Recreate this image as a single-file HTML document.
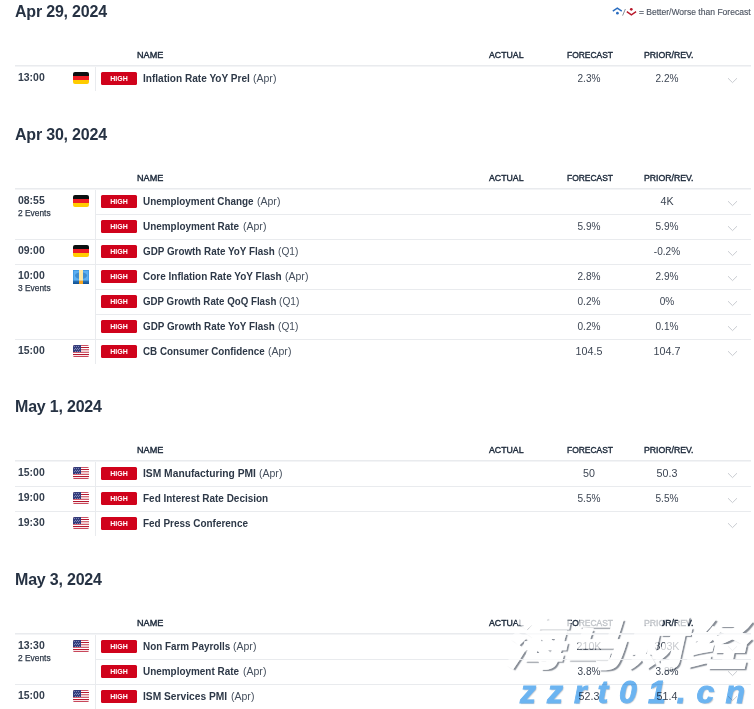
<!DOCTYPE html>
<html lang="en">
<head>
<meta charset="utf-8">
<title>Economic Calendar</title>
<style>
html,body{margin:0;padding:0;background:#fff;}
body{width:754px;height:709px;overflow:hidden;position:relative;font-family:"Liberation Sans","Noto Sans CJK SC",sans-serif;color:#222d3d;}
.sec{position:absolute;left:0;width:754px;z-index:1;}
.sec h2{position:absolute;left:15px;top:0;margin:0;font-size:16px;line-height:23px;font-weight:bold;color:#263243;letter-spacing:-0.2px;white-space:nowrap;}
.hd{position:absolute;top:48.5px;font-size:9.5px;line-height:12px;color:#202d3e;-webkit-text-stroke:0.42px #202d3e;white-space:nowrap;transform-origin:0 50%;}
.hline{position:absolute;left:15px;top:65px;width:736px;height:2px;background:linear-gradient(#e9ebee 0,#e9ebee 50%,#f3f4f6 50%,#f3f4f6 100%);}
.rows{position:absolute;left:15px;top:67px;width:736px;}
.grp{position:relative;border-bottom:1px solid #e9ebee;}
.grp.last{border-bottom:none;}
.left{position:absolute;left:0;top:0;bottom:0;width:80px;border-right:1px solid #e9ebee;}
.time{position:absolute;left:3px;top:3px;font-size:11px;line-height:14px;color:#333e4d;font-weight:bold;transform:scaleX(.95);transform-origin:0 50%;}
.cnt{position:absolute;left:3px;top:17.6px;font-size:9px;line-height:11px;color:#2c3747;-webkit-text-stroke:0.25px #2c3747;transform:scaleX(.93);transform-origin:0 50%;}
.flag{position:absolute;left:58px;top:5px;display:block;}
.flag.eu{top:5px;}
.ev{position:relative;height:24px;margin-left:81px;border-top:1px solid #e9ebee;}
.left + .ev{border-top:none;}
.badge{position:absolute;left:5px;top:5px;width:36px;height:13px;border-radius:1.5px;background:#d0021b;color:#fff;font-size:7px;line-height:13px;font-weight:bold;text-align:center;}
.nm{position:absolute;left:47px;top:5px;font-size:10.5px;line-height:13px;white-space:nowrap;color:#46505e;}
.nm b{display:inline-block;color:#2d3847;font-weight:bold;font-size:10px;transform-origin:0 50%;}
.nm i{position:absolute;top:0;font-style:normal;}
.val{position:absolute;top:5px;width:80px;text-align:center;font-size:10.5px;line-height:13px;color:#3d4654;transform:scaleX(.96);}
.val.n{transform:scaleX(1.02);}
.fc{left:453px;}
.pr{left:531px;}
.chev{position:absolute;left:631px;top:10px;display:block;}
.legend{position:absolute;right:3px;top:7px;font-size:9px;line-height:11px;color:#4d5562;-webkit-text-stroke:0.15px #4d5562;white-space:nowrap;transform:scaleX(.95);transform-origin:100% 50%;}
.lgi{position:absolute;left:611px;top:5px;display:block;}
.wm1,.wm1t{position:absolute;left:518px;top:600px;font-family:"Noto Sans CJK SC",sans-serif;font-weight:900;font-size:56px;line-height:80px;color:#fff;-webkit-text-stroke:1.6px #fff;transform:skewX(-12.5deg) scaleX(1.088);transform-origin:50% 50%;white-space:nowrap;letter-spacing:0;}
.wm1{z-index:0;text-shadow:2.5px 2px 1px rgba(55,65,80,.6);}
.wm1t{z-index:2;opacity:.72;width:224px;height:80px;}
.wm1t::before{content:"海马财经";}
.wm2{z-index:3;position:absolute;left:520px;top:672px;font-weight:bold;font-style:italic;font-size:32px;line-height:40px;color:#6cb4f1;-webkit-text-stroke:0.9px #6cb4f1;mix-blend-mode:multiply;letter-spacing:11px;white-space:nowrap;text-shadow:1px 1px 1px rgba(60,70,85,.3);}
</style>
</head>
<body>
<svg class="lgi" width="27" height="12" viewBox="0 0 27 12"><path d="M1.8 6.2 L6.3 3.1 L10.8 6.2" fill="none" stroke="#2a6dc0" stroke-width="1.4"/><circle cx="6.4" cy="8.2" r="1.35" fill="#2a6dc0"/><path d="M11.6 10.6 L14.4 4.0" stroke="#7d838d" stroke-width="0.9"/><circle cx="20.3" cy="4.3" r="1.35" fill="#b8182a"/><path d="M15.8 6.6 L20.4 9.8 L25.1 6.6" fill="none" stroke="#b8182a" stroke-width="1.4"/></svg>
<div class="legend">= Better/Worse than Forecast</div>
<div class="sec" style="top:0px">
<h2>Apr 29, 2024</h2>
<span class="hd" style="left:136.5px;transform:scaleX(.958)">NAME</span><span class="hd" style="left:488.5px;transform:scaleX(.923)">ACTUAL</span><span class="hd" style="left:566.5px;transform:scaleX(.889)">FORECAST</span><span class="hd" style="left:644px;transform:scaleX(.916)">PRIOR/REV.</span>
<div class="hline"></div>
<div class="rows">
<div class="grp last"><div class="left"><span class="time">13:00</span><svg class="flag" width="16" height="12" viewBox="0 0 16 12"><defs><clipPath id="rc1"><rect width="16" height="12" rx="2" ry="2"/></clipPath></defs><g clip-path="url(#rc1)"><rect width="16" height="4" fill="#0b0f10"/><rect y="4" width="16" height="4" fill="#ed1c24"/><rect y="8" width="16" height="4" fill="#ffcc00"/></g></svg></div>
<div class="ev"><span class="badge">HIGH</span><span class="nm"><b style="transform:scaleX(1.007)">Inflation Rate YoY Prel</b> <i style="left:110.0px;transform:scaleX(1.002);transform-origin:0 50%">(Apr)</i></span><span class="val fc">2.3%</span><span class="val pr">2.2%</span><svg class="chev" width="11" height="7" viewBox="0 0 11 7"><path d="M1 1.2 L5.5 5.6 L10 1.2" fill="none" stroke="#c9ccd1" stroke-width="1"/></svg></div>
</div>
</div>
</div>
<div class="sec" style="top:123px">
<h2>Apr 30, 2024</h2>
<span class="hd" style="left:136.5px;transform:scaleX(.958)">NAME</span><span class="hd" style="left:488.5px;transform:scaleX(.923)">ACTUAL</span><span class="hd" style="left:566.5px;transform:scaleX(.889)">FORECAST</span><span class="hd" style="left:644px;transform:scaleX(.916)">PRIOR/REV.</span>
<div class="hline"></div>
<div class="rows">
<div class="grp"><div class="left"><span class="time">08:55</span><span class="cnt">2 Events</span><svg class="flag" width="16" height="12" viewBox="0 0 16 12"><defs><clipPath id="rc2"><rect width="16" height="12" rx="2" ry="2"/></clipPath></defs><g clip-path="url(#rc2)"><rect width="16" height="4" fill="#0b0f10"/><rect y="4" width="16" height="4" fill="#ed1c24"/><rect y="8" width="16" height="4" fill="#ffcc00"/></g></svg></div>
<div class="ev"><span class="badge">HIGH</span><span class="nm"><b style="transform:scaleX(0.990)">Unemployment Change</b> <i style="left:114.0px;transform:scaleX(1.002);transform-origin:0 50%">(Apr)</i></span><span class="val pr n">4K</span><svg class="chev" width="11" height="7" viewBox="0 0 11 7"><path d="M1 1.2 L5.5 5.6 L10 1.2" fill="none" stroke="#c9ccd1" stroke-width="1"/></svg></div>
<div class="ev"><span class="badge">HIGH</span><span class="nm"><b style="transform:scaleX(0.993)">Unemployment Rate</b> <i style="left:99.6px;transform:scaleX(1.002);transform-origin:0 50%">(Apr)</i></span><span class="val fc">5.9%</span><span class="val pr">5.9%</span><svg class="chev" width="11" height="7" viewBox="0 0 11 7"><path d="M1 1.2 L5.5 5.6 L10 1.2" fill="none" stroke="#c9ccd1" stroke-width="1"/></svg></div>
</div>
<div class="grp"><div class="left"><span class="time">09:00</span><svg class="flag" width="16" height="12" viewBox="0 0 16 12"><defs><clipPath id="rc3"><rect width="16" height="12" rx="2" ry="2"/></clipPath></defs><g clip-path="url(#rc3)"><rect width="16" height="4" fill="#0b0f10"/><rect y="4" width="16" height="4" fill="#ed1c24"/><rect y="8" width="16" height="4" fill="#ffcc00"/></g></svg></div>
<div class="ev"><span class="badge">HIGH</span><span class="nm"><b style="transform:scaleX(0.985)">GDP Growth Rate YoY Flash</b> <i style="left:134.8px;transform:scaleX(0.971);transform-origin:0 50%">(Q1)</i></span><span class="val pr">-0.2%</span><svg class="chev" width="11" height="7" viewBox="0 0 11 7"><path d="M1 1.2 L5.5 5.6 L10 1.2" fill="none" stroke="#c9ccd1" stroke-width="1"/></svg></div>
</div>
<div class="grp"><div class="left"><span class="time">10:00</span><span class="cnt">3 Events</span><svg class="flag eu" width="16" height="14" viewBox="0 0 16 14"><defs><linearGradient id="eg4" x1="0" y1="0" x2="0" y2="1"><stop offset="0" stop-color="#2f76b8"/><stop offset="1" stop-color="#0d4f93"/></linearGradient></defs><rect width="16" height="14" fill="#3d95de"/><rect x="0.7" y="0.8" width="14.6" height="10" fill="#5db0f2"/><ellipse cx="8" cy="5.6" rx="6" ry="3.4" fill="#3f8dd0"/><rect y="10.6" width="16" height="3.4" fill="url(#eg4)"/><rect x="6" y="0" width="4" height="10.8" fill="#ffe9a6"/><rect x="6" y="10.8" width="4" height="3.2" fill="#f9a51f"/></svg></div>
<div class="ev"><span class="badge">HIGH</span><span class="nm"><b style="transform:scaleX(0.998)">Core Inflation Rate YoY Flash</b> <i style="left:141.8px;transform:scaleX(1.002);transform-origin:0 50%">(Apr)</i></span><span class="val fc">2.8%</span><span class="val pr">2.9%</span><svg class="chev" width="11" height="7" viewBox="0 0 11 7"><path d="M1 1.2 L5.5 5.6 L10 1.2" fill="none" stroke="#c9ccd1" stroke-width="1"/></svg></div>
<div class="ev"><span class="badge">HIGH</span><span class="nm"><b style="transform:scaleX(0.973)">GDP Growth Rate QoQ Flash</b> <i style="left:136.4px;transform:scaleX(0.971);transform-origin:0 50%">(Q1)</i></span><span class="val fc">0.2%</span><span class="val pr">0%</span><svg class="chev" width="11" height="7" viewBox="0 0 11 7"><path d="M1 1.2 L5.5 5.6 L10 1.2" fill="none" stroke="#c9ccd1" stroke-width="1"/></svg></div>
<div class="ev"><span class="badge">HIGH</span><span class="nm"><b style="transform:scaleX(0.985)">GDP Growth Rate YoY Flash</b> <i style="left:134.8px;transform:scaleX(0.971);transform-origin:0 50%">(Q1)</i></span><span class="val fc">0.2%</span><span class="val pr">0.1%</span><svg class="chev" width="11" height="7" viewBox="0 0 11 7"><path d="M1 1.2 L5.5 5.6 L10 1.2" fill="none" stroke="#c9ccd1" stroke-width="1"/></svg></div>
</div>
<div class="grp last"><div class="left"><span class="time">15:00</span><svg class="flag" width="16" height="12" viewBox="0 0 16 12"><defs><clipPath id="rc5"><rect width="16" height="12" rx="1.6" ry="1.6"/></clipPath></defs><g clip-path="url(#rc5)" shape-rendering="crispEdges"><rect width="16" height="12" fill="#fff"/><rect y="0" width="16" height="1" fill="#cc5566"/><rect y="2" width="16" height="1" fill="#b5172e"/><rect y="4" width="16" height="1" fill="#d4707c"/><rect y="5" width="16" height="1" fill="#f0c8cc"/><rect y="6" width="16" height="1" fill="#eecdd1"/><rect y="7" width="16" height="1" fill="#d06070"/><rect y="9" width="16" height="1" fill="#b5172e"/><rect y="10" width="16" height="1" fill="#f7e6e8"/><rect y="11" width="16" height="1" fill="#c8475a"/><rect width="8" height="7" fill="#343d7c"/><rect x="1" y="1" width="1" height="1" fill="#8087b5"/><rect x="3" y="1" width="1" height="1" fill="#8087b5"/><rect x="5" y="1" width="1" height="1" fill="#8087b5"/><rect x="2" y="2.5" width="1" height="1" fill="#8087b5"/><rect x="4" y="2.5" width="1" height="1" fill="#8087b5"/><rect x="6" y="2.5" width="1" height="1" fill="#8087b5"/><rect x="1" y="4" width="1" height="1" fill="#8087b5"/><rect x="3" y="4" width="1" height="1" fill="#8087b5"/><rect x="5" y="4" width="1" height="1" fill="#8087b5"/><rect x="2" y="5.5" width="1" height="1" fill="#8087b5"/><rect x="4" y="5.5" width="1" height="1" fill="#8087b5"/><rect x="6" y="5.5" width="1" height="1" fill="#8087b5"/></g></svg></div>
<div class="ev"><span class="badge">HIGH</span><span class="nm"><b style="transform:scaleX(0.982)">CB Consumer Confidence</b> <i style="left:125.1px;transform:scaleX(1.002);transform-origin:0 50%">(Apr)</i></span><span class="val fc n">104.5</span><span class="val pr n">104.7</span><svg class="chev" width="11" height="7" viewBox="0 0 11 7"><path d="M1 1.2 L5.5 5.6 L10 1.2" fill="none" stroke="#c9ccd1" stroke-width="1"/></svg></div>
</div>
</div>
</div>
<div class="sec" style="top:395px">
<h2>May 1, 2024</h2>
<span class="hd" style="left:136.5px;transform:scaleX(.958)">NAME</span><span class="hd" style="left:488.5px;transform:scaleX(.923)">ACTUAL</span><span class="hd" style="left:566.5px;transform:scaleX(.889)">FORECAST</span><span class="hd" style="left:644px;transform:scaleX(.916)">PRIOR/REV.</span>
<div class="hline"></div>
<div class="rows">
<div class="grp"><div class="left"><span class="time">15:00</span><svg class="flag" width="16" height="12" viewBox="0 0 16 12"><defs><clipPath id="rc6"><rect width="16" height="12" rx="1.6" ry="1.6"/></clipPath></defs><g clip-path="url(#rc6)" shape-rendering="crispEdges"><rect width="16" height="12" fill="#fff"/><rect y="0" width="16" height="1" fill="#cc5566"/><rect y="2" width="16" height="1" fill="#b5172e"/><rect y="4" width="16" height="1" fill="#d4707c"/><rect y="5" width="16" height="1" fill="#f0c8cc"/><rect y="6" width="16" height="1" fill="#eecdd1"/><rect y="7" width="16" height="1" fill="#d06070"/><rect y="9" width="16" height="1" fill="#b5172e"/><rect y="10" width="16" height="1" fill="#f7e6e8"/><rect y="11" width="16" height="1" fill="#c8475a"/><rect width="8" height="7" fill="#343d7c"/><rect x="1" y="1" width="1" height="1" fill="#8087b5"/><rect x="3" y="1" width="1" height="1" fill="#8087b5"/><rect x="5" y="1" width="1" height="1" fill="#8087b5"/><rect x="2" y="2.5" width="1" height="1" fill="#8087b5"/><rect x="4" y="2.5" width="1" height="1" fill="#8087b5"/><rect x="6" y="2.5" width="1" height="1" fill="#8087b5"/><rect x="1" y="4" width="1" height="1" fill="#8087b5"/><rect x="3" y="4" width="1" height="1" fill="#8087b5"/><rect x="5" y="4" width="1" height="1" fill="#8087b5"/><rect x="2" y="5.5" width="1" height="1" fill="#8087b5"/><rect x="4" y="5.5" width="1" height="1" fill="#8087b5"/><rect x="6" y="5.5" width="1" height="1" fill="#8087b5"/></g></svg></div>
<div class="ev"><span class="badge">HIGH</span><span class="nm"><b style="transform:scaleX(1.027)">ISM Manufacturing PMI</b> <i style="left:116.4px;transform:scaleX(1.002);transform-origin:0 50%">(Apr)</i></span><span class="val fc n">50</span><span class="val pr n">50.3</span><svg class="chev" width="11" height="7" viewBox="0 0 11 7"><path d="M1 1.2 L5.5 5.6 L10 1.2" fill="none" stroke="#c9ccd1" stroke-width="1"/></svg></div>
</div>
<div class="grp"><div class="left"><span class="time">19:00</span><svg class="flag" width="16" height="12" viewBox="0 0 16 12"><defs><clipPath id="rc7"><rect width="16" height="12" rx="1.6" ry="1.6"/></clipPath></defs><g clip-path="url(#rc7)" shape-rendering="crispEdges"><rect width="16" height="12" fill="#fff"/><rect y="0" width="16" height="1" fill="#cc5566"/><rect y="2" width="16" height="1" fill="#b5172e"/><rect y="4" width="16" height="1" fill="#d4707c"/><rect y="5" width="16" height="1" fill="#f0c8cc"/><rect y="6" width="16" height="1" fill="#eecdd1"/><rect y="7" width="16" height="1" fill="#d06070"/><rect y="9" width="16" height="1" fill="#b5172e"/><rect y="10" width="16" height="1" fill="#f7e6e8"/><rect y="11" width="16" height="1" fill="#c8475a"/><rect width="8" height="7" fill="#343d7c"/><rect x="1" y="1" width="1" height="1" fill="#8087b5"/><rect x="3" y="1" width="1" height="1" fill="#8087b5"/><rect x="5" y="1" width="1" height="1" fill="#8087b5"/><rect x="2" y="2.5" width="1" height="1" fill="#8087b5"/><rect x="4" y="2.5" width="1" height="1" fill="#8087b5"/><rect x="6" y="2.5" width="1" height="1" fill="#8087b5"/><rect x="1" y="4" width="1" height="1" fill="#8087b5"/><rect x="3" y="4" width="1" height="1" fill="#8087b5"/><rect x="5" y="4" width="1" height="1" fill="#8087b5"/><rect x="2" y="5.5" width="1" height="1" fill="#8087b5"/><rect x="4" y="5.5" width="1" height="1" fill="#8087b5"/><rect x="6" y="5.5" width="1" height="1" fill="#8087b5"/></g></svg></div>
<div class="ev"><span class="badge">HIGH</span><span class="nm"><b style="transform:scaleX(0.997)">Fed Interest Rate Decision</b></span><span class="val fc">5.5%</span><span class="val pr">5.5%</span><svg class="chev" width="11" height="7" viewBox="0 0 11 7"><path d="M1 1.2 L5.5 5.6 L10 1.2" fill="none" stroke="#c9ccd1" stroke-width="1"/></svg></div>
</div>
<div class="grp last"><div class="left"><span class="time">19:30</span><svg class="flag" width="16" height="12" viewBox="0 0 16 12"><defs><clipPath id="rc8"><rect width="16" height="12" rx="1.6" ry="1.6"/></clipPath></defs><g clip-path="url(#rc8)" shape-rendering="crispEdges"><rect width="16" height="12" fill="#fff"/><rect y="0" width="16" height="1" fill="#cc5566"/><rect y="2" width="16" height="1" fill="#b5172e"/><rect y="4" width="16" height="1" fill="#d4707c"/><rect y="5" width="16" height="1" fill="#f0c8cc"/><rect y="6" width="16" height="1" fill="#eecdd1"/><rect y="7" width="16" height="1" fill="#d06070"/><rect y="9" width="16" height="1" fill="#b5172e"/><rect y="10" width="16" height="1" fill="#f7e6e8"/><rect y="11" width="16" height="1" fill="#c8475a"/><rect width="8" height="7" fill="#343d7c"/><rect x="1" y="1" width="1" height="1" fill="#8087b5"/><rect x="3" y="1" width="1" height="1" fill="#8087b5"/><rect x="5" y="1" width="1" height="1" fill="#8087b5"/><rect x="2" y="2.5" width="1" height="1" fill="#8087b5"/><rect x="4" y="2.5" width="1" height="1" fill="#8087b5"/><rect x="6" y="2.5" width="1" height="1" fill="#8087b5"/><rect x="1" y="4" width="1" height="1" fill="#8087b5"/><rect x="3" y="4" width="1" height="1" fill="#8087b5"/><rect x="5" y="4" width="1" height="1" fill="#8087b5"/><rect x="2" y="5.5" width="1" height="1" fill="#8087b5"/><rect x="4" y="5.5" width="1" height="1" fill="#8087b5"/><rect x="6" y="5.5" width="1" height="1" fill="#8087b5"/></g></svg></div>
<div class="ev"><span class="badge">HIGH</span><span class="nm"><b style="transform:scaleX(0.994)">Fed Press Conference</b></span><svg class="chev" width="11" height="7" viewBox="0 0 11 7"><path d="M1 1.2 L5.5 5.6 L10 1.2" fill="none" stroke="#c9ccd1" stroke-width="1"/></svg></div>
</div>
</div>
</div>
<div class="sec" style="top:568px">
<h2>May 3, 2024</h2>
<span class="hd" style="left:136.5px;transform:scaleX(.958)">NAME</span><span class="hd" style="left:488.5px;transform:scaleX(.923)">ACTUAL</span><span class="hd" style="left:566.5px;transform:scaleX(.889)">FORECAST</span><span class="hd" style="left:644px;transform:scaleX(.916)">PRIOR/REV.</span>
<div class="hline"></div>
<div class="rows">
<div class="grp"><div class="left"><span class="time">13:30</span><span class="cnt">2 Events</span><svg class="flag" width="16" height="12" viewBox="0 0 16 12"><defs><clipPath id="rc9"><rect width="16" height="12" rx="1.6" ry="1.6"/></clipPath></defs><g clip-path="url(#rc9)" shape-rendering="crispEdges"><rect width="16" height="12" fill="#fff"/><rect y="0" width="16" height="1" fill="#cc5566"/><rect y="2" width="16" height="1" fill="#b5172e"/><rect y="4" width="16" height="1" fill="#d4707c"/><rect y="5" width="16" height="1" fill="#f0c8cc"/><rect y="6" width="16" height="1" fill="#eecdd1"/><rect y="7" width="16" height="1" fill="#d06070"/><rect y="9" width="16" height="1" fill="#b5172e"/><rect y="10" width="16" height="1" fill="#f7e6e8"/><rect y="11" width="16" height="1" fill="#c8475a"/><rect width="8" height="7" fill="#343d7c"/><rect x="1" y="1" width="1" height="1" fill="#8087b5"/><rect x="3" y="1" width="1" height="1" fill="#8087b5"/><rect x="5" y="1" width="1" height="1" fill="#8087b5"/><rect x="2" y="2.5" width="1" height="1" fill="#8087b5"/><rect x="4" y="2.5" width="1" height="1" fill="#8087b5"/><rect x="6" y="2.5" width="1" height="1" fill="#8087b5"/><rect x="1" y="4" width="1" height="1" fill="#8087b5"/><rect x="3" y="4" width="1" height="1" fill="#8087b5"/><rect x="5" y="4" width="1" height="1" fill="#8087b5"/><rect x="2" y="5.5" width="1" height="1" fill="#8087b5"/><rect x="4" y="5.5" width="1" height="1" fill="#8087b5"/><rect x="6" y="5.5" width="1" height="1" fill="#8087b5"/></g></svg></div>
<div class="ev"><span class="badge">HIGH</span><span class="nm"><b style="transform:scaleX(0.988)">Non Farm Payrolls</b> <i style="left:90.4px;transform:scaleX(1.002);transform-origin:0 50%">(Apr)</i></span><span class="val fc n">210K</span><span class="val pr n">303K</span><svg class="chev" width="11" height="7" viewBox="0 0 11 7"><path d="M1 1.2 L5.5 5.6 L10 1.2" fill="none" stroke="#c9ccd1" stroke-width="1"/></svg></div>
<div class="ev"><span class="badge">HIGH</span><span class="nm"><b style="transform:scaleX(0.993)">Unemployment Rate</b> <i style="left:99.6px;transform:scaleX(1.002);transform-origin:0 50%">(Apr)</i></span><span class="val fc">3.8%</span><span class="val pr">3.8%</span><svg class="chev" width="11" height="7" viewBox="0 0 11 7"><path d="M1 1.2 L5.5 5.6 L10 1.2" fill="none" stroke="#c9ccd1" stroke-width="1"/></svg></div>
</div>
<div class="grp last"><div class="left"><span class="time">15:00</span><svg class="flag" width="16" height="12" viewBox="0 0 16 12"><defs><clipPath id="rc10"><rect width="16" height="12" rx="1.6" ry="1.6"/></clipPath></defs><g clip-path="url(#rc10)" shape-rendering="crispEdges"><rect width="16" height="12" fill="#fff"/><rect y="0" width="16" height="1" fill="#cc5566"/><rect y="2" width="16" height="1" fill="#b5172e"/><rect y="4" width="16" height="1" fill="#d4707c"/><rect y="5" width="16" height="1" fill="#f0c8cc"/><rect y="6" width="16" height="1" fill="#eecdd1"/><rect y="7" width="16" height="1" fill="#d06070"/><rect y="9" width="16" height="1" fill="#b5172e"/><rect y="10" width="16" height="1" fill="#f7e6e8"/><rect y="11" width="16" height="1" fill="#c8475a"/><rect width="8" height="7" fill="#343d7c"/><rect x="1" y="1" width="1" height="1" fill="#8087b5"/><rect x="3" y="1" width="1" height="1" fill="#8087b5"/><rect x="5" y="1" width="1" height="1" fill="#8087b5"/><rect x="2" y="2.5" width="1" height="1" fill="#8087b5"/><rect x="4" y="2.5" width="1" height="1" fill="#8087b5"/><rect x="6" y="2.5" width="1" height="1" fill="#8087b5"/><rect x="1" y="4" width="1" height="1" fill="#8087b5"/><rect x="3" y="4" width="1" height="1" fill="#8087b5"/><rect x="5" y="4" width="1" height="1" fill="#8087b5"/><rect x="2" y="5.5" width="1" height="1" fill="#8087b5"/><rect x="4" y="5.5" width="1" height="1" fill="#8087b5"/><rect x="6" y="5.5" width="1" height="1" fill="#8087b5"/></g></svg></div>
<div class="ev"><span class="badge">HIGH</span><span class="nm"><b style="transform:scaleX(1.022)">ISM Services PMI</b> <i style="left:87.5px;transform:scaleX(1.002);transform-origin:0 50%">(Apr)</i></span><span class="val fc n">52.3</span><span class="val pr n">51.4</span><svg class="chev" width="11" height="7" viewBox="0 0 11 7"><path d="M1 1.2 L5.5 5.6 L10 1.2" fill="none" stroke="#c9ccd1" stroke-width="1"/></svg></div>
</div>
</div>
</div>
<div class="wm1">海马财经</div>
<div class="wm1t"></div>
<div class="wm2">zzrt01.cn</div>
</body>
</html>
